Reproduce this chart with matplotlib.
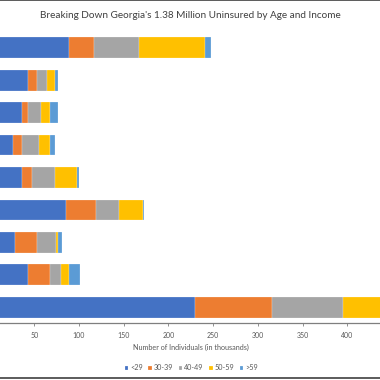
import numpy as np
import matplotlib.pyplot as plt
from matplotlib.lines import Line2D

plt.rcParams["font.family"] = ["Lato", "DejaVu Sans"]

# rows top to bottom (row labels are cropped out of the reference)
rows = ["Row 1", "Row 2", "Row 3", "Row 4", "Row 5", "Row 6", "Row 7", "Row 8", "Row 9"]
age_groups = ["<29", "30-39", "40-49", "50-59", ">59"]

# thousands of uninsured per row, one list per age group
under_29 = [89, 43, 36, 26.5, 36, 85, 28, 42.6, 229.7]
age_30_39 = [28, 10, 7, 9.5, 11, 34, 25, 25.3, 86]
age_40_49 = [50, 11, 14, 19, 26, 26, 21, 12, 79.4]
age_50_59 = [74, 9, 10, 13, 25, 26, 2, 9, 55]
over_59 = [7, 3, 9, 5, 1.5, 2, 4.5, 12.3, 8]
x_ticks = [50, 100, 150, 200, 250, 300, 350, 400]

series = [under_29, age_30_39, age_40_49, age_50_59, over_59]
colors = ["#4472C4", "#ED7D31", "#A5A5A5", "#FFC000", "#5B9BD5"]

fig = plt.figure(figsize=(3.8, 3.8), dpi=100)
# the reference is a crop: the axis starts just left of the picture
ax = fig.add_axes([-0.0274, 0.149, 1.059, 0.768])

y = np.arange(len(rows))
left = np.zeros(len(rows))
for vals, name, c in zip(series, age_groups, colors):
    vals = np.array(vals)
    ax.barh(y, vals, left=left, height=0.64, color=c, label=name,
            edgecolor="white", linewidth=0.15)
    left += vals

ax.set_ylim(len(rows) - 0.5, -0.5)
ax.set_xlim(0, 450)
ax.set_xticks(x_ticks)
ax.set_yticks([])
for s in ["top", "right", "left"]:
    ax.spines[s].set_visible(False)
ax.spines["bottom"].set_color("#7f7f7f")
ax.spines["bottom"].set_linewidth(0.9)
ax.tick_params(axis="x", length=2.5, width=0.6, color="#7f7f7f",
               labelsize=5, labelcolor="#595959", pad=4)
ax.set_xlabel("Number of Individuals (in thousands)", fontsize=5.2,
              color="#595959", labelpad=3)

fig.text(0.5, 0.96, "Breaking Down Georgia's 1.38 Million Uninsured by Age and Income",
         ha="center", va="center", fontsize=7.2, color="#404040")

fig.legend(loc="center", bbox_to_anchor=(0.503, 0.032), ncol=5, frameon=False,
           fontsize=5.2, handlelength=0.5, handleheight=0.5, handletextpad=0.2,
           columnspacing=0.8, labelcolor="#595959")

for yy in [0.999, 0.004]:
    fig.add_artist(Line2D([0, 1], [yy, yy], color="#404040", linewidth=1.2,
                          transform=fig.transFigure))

fig.savefig("out.png", dpi=100)
